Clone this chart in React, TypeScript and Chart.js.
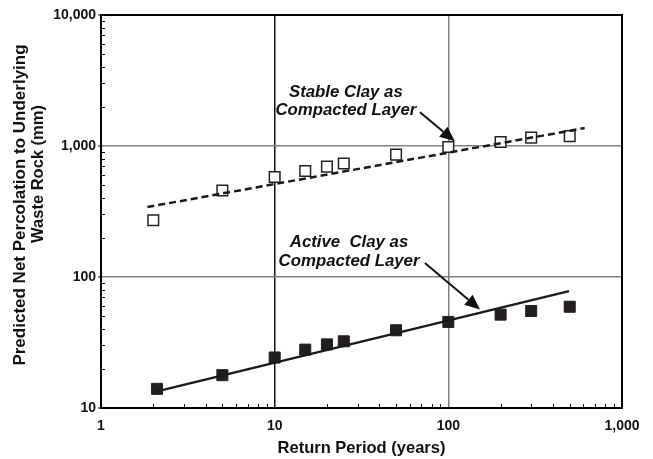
import React, { useEffect, useRef } from "react";
import { Chart, registerables } from "chart.js";

Chart.register(...registerables);

// ---- Data ----
const stableReturnPeriods = [2, 5, 10, 15, 20, 25, 50, 100, 200, 300, 500];
const stableClay = [271, 457, 580, 644, 696, 735, 859, 983, 1073, 1158, 1190];
const activeReturnPeriods = [2.1, 5, 10, 15, 20, 25, 50, 100, 200, 300, 500];
const activeClay = [14.0, 17.8, 24.3, 27.9, 30.6, 32.3, 39.2, 45.4, 51.6, 55.0, 59.3];
const stableTrendX = [1.85, 610];
const stableTrendY = [342, 1372];
const activeTrendX = [2.1, 495];
const activeTrendY = [13.4, 78];

const xTickValues = [1, 10, 100, 1000];
const xTickLabels = ["1", "10", "100", "1,000"];
const yTickValues = [10, 100, 1000, 10000];
const yTickLabels = ["10", "100", "1,000", "10,000"];

const stableLabel = ["Stable Clay as", "Compacted Layer"];
const activeLabel = ["Active  Clay as", "Compacted Layer"];
// annotation anchors in data space
const stableLabelAt = { x: 25.7, y: 2570 };
const stableArrow = { x0: 68.7, y0: 1807, x1: 109, y1: 1086 };
const activeLabelAt = { x: 26.8, y: 185 };
const activeArrow = { x0: 73.3, y0: 128, x1: 152, y1: 56.6 };

const xTitle = "Return Period (years)";
const yTitleLines = ["Predicted Net Percolation to Underlying", "Waste Rock (mm)"];

const FONT = '"Liberation Sans", Arial, sans-serif';

const zip = (xs: number[], ys: number[]) => xs.map((x, i) => ({ x, y: ys[i] }));

const isPow10 = (v: number) => Math.abs(Math.log10(v) - Math.round(Math.log10(v))) < 1e-9;

function drawArrow(ctx: CanvasRenderingContext2D, x0: number, y0: number, x1: number, y1: number) {
  const ang = Math.atan2(y1 - y0, x1 - x0);
  const headLen = 15;
  const headW = 6.5;
  const bx = x1 - headLen * Math.cos(ang);
  const by = y1 - headLen * Math.sin(ang);
  ctx.save();
  ctx.strokeStyle = "#111";
  ctx.fillStyle = "#111";
  ctx.lineWidth = 2;
  ctx.beginPath();
  ctx.moveTo(x0, y0);
  ctx.lineTo(bx, by);
  ctx.stroke();
  ctx.beginPath();
  ctx.moveTo(x1, y1);
  ctx.lineTo(bx + headW * Math.sin(ang), by - headW * Math.cos(ang));
  ctx.lineTo(bx - headW * Math.sin(ang), by + headW * Math.cos(ang));
  ctx.closePath();
  ctx.fill();
  ctx.restore();
}

const framePlugin = {
  id: "frame",
  beforeDatasetsDraw(chart: any) {
    const { ctx, chartArea: a, scales } = chart;
    ctx.save();
    ctx.strokeStyle = "#111";
    ctx.lineWidth = 1;
    const xs = scales.x;
    const ys = scales.y;
    for (let d = 1; d < 1000; d *= 10) {
      for (let k = 2; k <= 9; k++) {
        const px = Math.round(xs.getPixelForValue(d * k)) + 0.5;
        ctx.beginPath();
        ctx.moveTo(px, a.bottom);
        ctx.lineTo(px, a.bottom - 4);
        ctx.stroke();
      }
    }
    for (let d = 10; d < 10000; d *= 10) {
      for (let k = 2; k <= 9; k++) {
        const py = Math.round(ys.getPixelForValue(d * k)) + 0.5;
        ctx.beginPath();
        ctx.moveTo(a.left, py);
        ctx.lineTo(a.left + 4, py);
        ctx.stroke();
      }
    }
    for (const v of yTickValues) {
      const py = ys.getPixelForValue(v);
      ctx.beginPath();
      ctx.moveTo(a.left - 3, py);
      ctx.lineTo(a.left, py);
      ctx.stroke();
    }
    ctx.strokeStyle = "#000";
    ctx.lineWidth = 2;
    ctx.strokeRect(a.left, a.top, a.right - a.left, a.bottom - a.top);
    ctx.restore();
  },
  afterDraw(chart: any) {
    const { ctx, chartArea: a, scales } = chart;
    const xs = scales.x;
    const ys = scales.y;
    ctx.save();
    ctx.fillStyle = "#111";
    ctx.textAlign = "center";
    ctx.textBaseline = "middle";
    ctx.font = `italic bold 16.8px ${FONT}`;
    const sx = xs.getPixelForValue(stableLabelAt.x);
    const sy = ys.getPixelForValue(stableLabelAt.y);
    stableLabel.forEach((t, i) => ctx.fillText(t, sx, sy + i * 18));
    const ax = xs.getPixelForValue(activeLabelAt.x);
    const ay = ys.getPixelForValue(activeLabelAt.y);
    activeLabel.forEach((t, i) => ctx.fillText(t, ax, ay + i * 19));
    drawArrow(
      ctx,
      xs.getPixelForValue(stableArrow.x0),
      ys.getPixelForValue(stableArrow.y0),
      xs.getPixelForValue(stableArrow.x1),
      ys.getPixelForValue(stableArrow.y1)
    );
    drawArrow(
      ctx,
      xs.getPixelForValue(activeArrow.x0),
      ys.getPixelForValue(activeArrow.y0),
      xs.getPixelForValue(activeArrow.x1),
      ys.getPixelForValue(activeArrow.y1)
    );
    ctx.font = `bold 16.5px ${FONT}`;
    ctx.fillText(xTitle, (a.left + a.right) / 2, 448);
    ctx.save();
    ctx.font = `bold 17px ${FONT}`;
    ctx.translate(20, 205);
    ctx.rotate(-Math.PI / 2);
    ctx.fillText(yTitleLines[0], 0, 0);
    ctx.restore();
    ctx.save();
    ctx.font = `bold 16.5px ${FONT}`;
    ctx.translate(38, 174);
    ctx.rotate(-Math.PI / 2);
    ctx.fillText(yTitleLines[1], 0, 0);
    ctx.restore();
    ctx.restore();
  },
};

export default function App() {
  const ref = useRef<HTMLCanvasElement | null>(null);
  useEffect(() => {
    document.body.style.margin = "0";
    const canvas = ref.current!;
    const chart = new Chart(canvas, {
      type: "scatter",
      data: {
        datasets: [
          {
            label: "Stable trend",
            data: zip(stableTrendX, stableTrendY),
            showLine: true,
            borderColor: "#1a1a1a",
            borderWidth: 2.5,
            borderDash: [7, 4],
            pointRadius: 0,
            order: 0,
          },
          {
            label: "Active trend",
            data: zip(activeTrendX, activeTrendY),
            showLine: true,
            borderColor: "#1a1a1a",
            borderWidth: 2.5,
            pointRadius: 0,
            order: 0,
          },
          {
            label: "Stable Clay",
            data: zip(stableReturnPeriods, stableClay),
            pointStyle: "rect",
            pointRadius: 7.5,
            backgroundColor: "#ffffff",
            borderColor: "#222",
            borderWidth: 1.5,
            order: 1,
          },
          {
            label: "Active Clay",
            data: zip(activeReturnPeriods, activeClay),
            pointStyle: "rect",
            pointRadius: 7.8,
            backgroundColor: "#231f20",
            borderColor: "#231f20",
            borderWidth: 1,
            order: 1,
          },
        ],
      },
      options: {
        animation: false,
        responsive: false,
        layout: { padding: { top: 15, right: 31, left: 0, bottom: 0 } },
        plugins: { legend: { display: false }, tooltip: { enabled: false } },
        scales: {
          x: {
            type: "logarithmic",
            min: 1,
            max: 1000,
            afterFit: (s: any) => {
              s.height = 51;
            },
            grid: {
              drawTicks: false,
              lineWidth: 1.5,
              color: (c: any) => {
                const v = c.tick && c.tick.value;
                if (v === 10) return "#111";
                if (v && isPow10(v)) return "#808080";
                return "rgba(0,0,0,0)";
              },
            },
            border: { display: true, color: "#000", width: 2 },
            ticks: {
              autoSkip: false,
              maxRotation: 0,
              padding: 10,
              color: "#111",
              font: { family: FONT, size: 14, weight: "bold" },
              callback: (v: any) => {
                const i = xTickValues.findIndex((t) => Math.abs(t - Number(v)) < 1e-9);
                return i >= 0 ? xTickLabels[i] : "";
              },
            },
          },
          y: {
            type: "logarithmic",
            min: 10,
            max: 10000,
            afterFit: (s: any) => {
              s.width = 101;
            },
            grid: {
              drawTicks: false,
              lineWidth: 1.5,
              color: (c: any) => {
                const v = c.tick && c.tick.value;
                if (v && isPow10(v)) return "#808080";
                return "rgba(0,0,0,0)";
              },
            },
            border: { display: true, color: "#000", width: 2 },
            ticks: {
              autoSkip: false,
              padding: 5,
              color: "#111",
              font: { family: FONT, size: 14, weight: "bold" },
              callback: (v: any) => {
                const i = yTickValues.findIndex((t) => Math.abs(t - Number(v)) < 1e-9);
                return i >= 0 ? yTickLabels[i] : "";
              },
            },
          },
        },
      },
      plugins: [framePlugin],
    } as any);
    return () => chart.destroy();
  }, []);
  return (
    <div style={{ width: 653, height: 459, background: "#fff" }}>
      <canvas ref={ref} width={653} height={459} style={{ display: "block" }} />
    </div>
  );
}
